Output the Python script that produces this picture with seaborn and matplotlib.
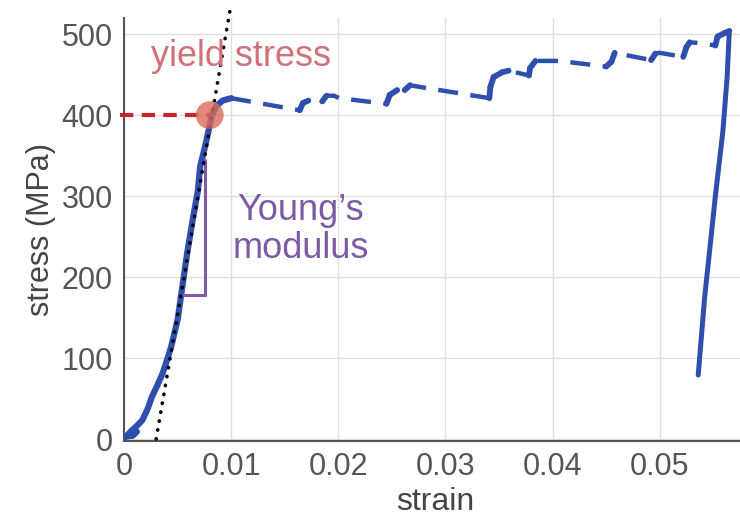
import matplotlib
matplotlib.use("Agg")
import matplotlib.pyplot as plt
import seaborn as sns
import pandas as pd

# ---------------- data ----------------
load_strain = [0.0000, 0.0006, 0.0012, 0.0008, 0.0002, 0.0006, 0.0011, 0.0017, 0.0022,
               0.0026, 0.0031, 0.0036, 0.0040, 0.0044, 0.0050, 0.0054, 0.0059, 0.0064,
               0.0069, 0.0071, 0.0077, 0.0082, 0.0086, 0.0092, 0.0100]
load_stress = [2, 6, 9, 4, 3, 9, 15, 23, 37, 52, 66, 81, 97, 114, 147, 184, 230, 270,
               307, 336, 369, 400, 411, 418, 421]

plastic_strain = [0.0100, 0.0164, 0.0167, 0.0172, 0.0185, 0.0189, 0.0196, 0.0201, 0.0245,
                  0.0248, 0.0255, 0.0262, 0.0267, 0.0271, 0.0341, 0.0342, 0.0345, 0.0353,
                  0.0359, 0.0378, 0.0379, 0.0384, 0.0390, 0.0406, 0.0450, 0.0455, 0.0458,
                  0.0492, 0.0496, 0.0500, 0.0522, 0.0525, 0.0528, 0.0538, 0.0552, 0.0554,
                  0.0560, 0.0565]
plastic_stress = [421, 406, 415, 418, 417, 424, 424, 421, 414,
                  425, 431, 431, 437, 436, 421, 435, 447, 453,
                  455, 449, 458, 467, 467, 467, 460, 466, 477,
                  468, 476, 477, 472, 484, 490, 489, 486, 497,
                  501, 504]

unload_strain = [0.0565, 0.0563, 0.0559, 0.0552, 0.0547, 0.0542, 0.0536]
unload_stress = [504, 447, 380, 300, 237, 175, 79]

tangent_strain = [0.0030, 0.0099]
tangent_stress = [0, 530]

yield_strain = 0.0080
yield_stress = 400

young_h_strain = [0.0055, 0.0076]
young_v_stress = [178, 345]

xticks = [0, 0.01, 0.02, 0.03, 0.04, 0.05]
xtick_labels = ["0", "0.01", "0.02", "0.03", "0.04", "0.05"]
yticks = [0, 100, 200, 300, 400, 500]
ytick_labels = ["0", "100", "200", "300", "400", "500"]

# ---------------- style ----------------
sns.set_theme(style="whitegrid")
plt.rcParams["font.family"] = ["Liberation Sans", "DejaVu Sans"]

BLUE = "#2f4fae"
GRAY = "#555555"

fig = plt.figure(figsize=(7.4, 5.16), dpi=100)
ax = fig.add_axes([0.1676, 0.1453, 0.8324, 0.8198])
ax.set_facecolor("white")

# tangent (dotted black)
ax.plot(tangent_strain, tangent_stress, color="black", linewidth=2.6,
        linestyle=(0, (0.1, 2.4)), dash_capstyle="round", clip_on=False, zorder=5)

# loading curve
sns.lineplot(x=load_strain, y=load_stress, sort=False, estimator=None, ax=ax,
             color=BLUE, linewidth=4.5, zorder=3)

# plastic region (dashed with solid jumps)
sns.lineplot(x=plastic_strain, y=plastic_stress, sort=False, estimator=None, ax=ax,
             color=BLUE, linewidth=3.2, linestyle=(0, (4.5, 2.8)), zorder=3)
for i in range(len(plastic_stress) - 1):
    if plastic_stress[i + 1] > plastic_stress[i] + 1:
        ax.plot(plastic_strain[i:i + 2], plastic_stress[i:i + 2], color=BLUE,
                linewidth=4.2, solid_capstyle="round", zorder=3)

# unloading
sns.lineplot(x=unload_strain, y=unload_stress, sort=False, estimator=None, ax=ax,
             color=BLUE, linewidth=3.6, zorder=3)

# yield stress marker
ax.plot([-0.0004, yield_strain], [yield_stress, yield_stress], color="#c8252b",
        linewidth=3.0, linestyle=(0, (3.2, 2.0)), clip_on=False, zorder=6)
sns.scatterplot(x=[yield_strain], y=[yield_stress], ax=ax, s=400,
                color="#dc6a5c", alpha=0.8, edgecolor="none", zorder=7)

# Young's modulus triangle
ax.plot(young_h_strain, [young_v_stress[0], young_v_stress[0]], color="#7d5aa5",
        linewidth=2.2, zorder=4)
ax.plot([young_h_strain[1], young_h_strain[1]], young_v_stress, color="#7d5aa5",
        linewidth=2.2, zorder=4)

# texts
ax.text(0.0109, 461, "yield stress", color="#d0717a", fontsize=26,
        ha="center", va="baseline", zorder=8)
ax.text(0.0165, 270, "Young\u2019s", color="#7d5aa5", fontsize=26,
        ha="center", va="baseline", zorder=8)
ax.text(0.0165, 223, "modulus", color="#7d5aa5", fontsize=26,
        ha="center", va="baseline", zorder=8)

# axes
ax.set_xlim(0, 0.0575)
ax.set_ylim(-2.5, 520)
ax.set_xticks(xticks)
ax.set_xticklabels(xtick_labels)
ax.set_yticks(yticks)
ax.set_yticklabels(ytick_labels)
ax.tick_params(axis="both", direction="in", length=5, width=1.2, color=GRAY,
               labelsize=22, labelcolor=GRAY, pad=8)
ax.grid(True, color="#dedede", linewidth=1.0)
ax.set_axisbelow(True)
for side in ["top", "right"]:
    ax.spines[side].set_visible(False)
for side in ["left", "bottom"]:
    ax.spines[side].set_visible(True)
    ax.spines[side].set_color(GRAY)
    ax.spines[side].set_linewidth(1.5)

ax.set_xlabel("strain", fontsize=23, color="#444444")
ax.xaxis.label.set_va("baseline")
ax.xaxis.set_label_coords(0.505, -0.163)
ax.set_ylabel("stress (MPa)", fontsize=22, color="#444444", labelpad=4)

fig.savefig("out.png", dpi=100, facecolor="white")
